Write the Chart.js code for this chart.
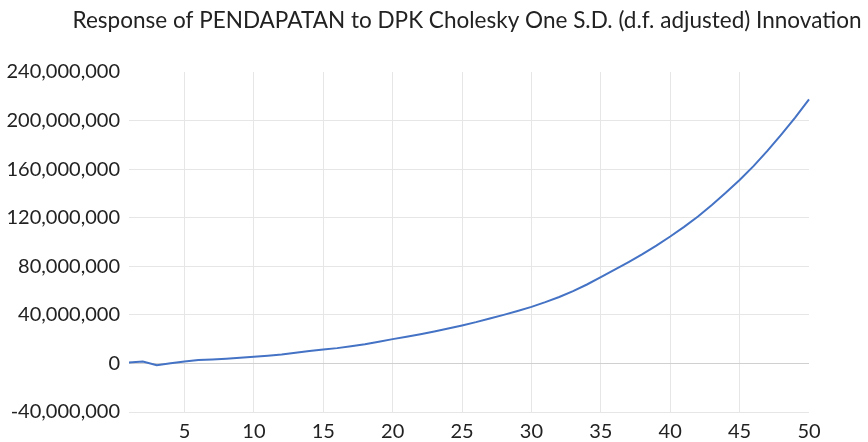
<!DOCTYPE html>
<html>
<head>
<meta charset="utf-8">
<script src="https://cdn.jsdelivr.net/npm/chart.js@4"></script>
<style>
  html, body { margin: 0; padding: 0; background: #fff; }
  #wrap { width: 868px; height: 442px; }
</style>
</head>
<body>
<div id="wrap"><canvas id="irfChart" width="868" height="442"></canvas></div>
<script>
// periode respon 1..50
const periods = [1, 2, 3, 4, 5, 6, 7, 8, 9, 10,
  11, 12, 13, 14, 15, 16, 17, 18, 19, 20,
  21, 22, 23, 24, 25, 26, 27, 28, 29, 30,
  31, 32, 33, 34, 35, 36, 37, 38, 39, 40,
  41, 42, 43, 44, 45, 46, 47, 48, 49, 50];

// respon PENDAPATAN (dalam juta)
const responseMillions = [0.8, 1.5, -1.5, 0.2, 1.6, 2.8, 3.2, 3.8, 4.6, 5.5,
  6.4, 7.4, 8.8, 10.2, 11.5, 12.6, 14.1, 15.8, 17.8, 20.0,
  22.0, 24.1, 26.3, 28.7, 31.3, 34.0, 37.0, 40.0, 43.2, 46.6,
  50.5, 54.7, 59.5, 65.0, 71.0, 77.2, 83.5, 90.0, 97.0, 104.5,
  112.5, 121.0, 130.5, 140.5, 151.0, 162.5, 175.0, 188.5, 202.5, 217.5];

const yTicks = [-40000000, 0, 40000000, 80000000, 120000000, 160000000, 200000000, 240000000];
const xTickLabels = [5, 10, 15, 20, 25, 30, 35, 40, 45, 50];

const titleText = 'Response of PENDAPATAN to DPK Cholesky One S.D. (d.f. adjusted) Innovation';

const fontFamily = 'Lato, "Open Sans", sans-serif';
const ctx = document.getElementById('irfChart').getContext('2d');

// judul digambar sendiri supaya tidak dipersempit ke lebar area plot
const titlePlugin = {
  id: 'wideTitle',
  afterDraw(chart) {
    const c = chart.ctx;
    c.save();
    c.font = '22.6px ' + fontFamily;
    c.fillStyle = '#222';
    c.textAlign = 'center';
    c.textBaseline = 'middle';
    c.fillText(titleText, 467, 21, 789);
    c.restore();
  }
};

const config = {
  type: 'line',
  data: {
    labels: periods,
    datasets: [{
      label: 'PENDAPATAN',
      data: responseMillions.map(v => v * 1000000),
      borderColor: '#4472C4',
      borderWidth: 2,
      pointRadius: 0,
      tension: 0,
      fill: false
    }]
  },
  options: {
    responsive: false,
    animation: false,
    layout: { padding: { left: 0, right: 59, top: 72, bottom: 0 } },
    plugins: {
      legend: { display: false },
      tooltip: { enabled: false },
      title: { display: false }
    },
    scales: {
      x: {
        type: 'category',
        offset: false,
        border: { display: false },
        grid: {
          drawTicks: false,
          color: c => (xTickLabels.includes(periods[c.index]) && periods[c.index] !== 50) ? '#e6e6e6' : 'rgba(0,0,0,0)'
        },
        ticks: {
          autoSkip: false,
          maxRotation: 0,
          padding: 8,
          color: '#222',
          font: { family: fontFamily, size: 20 },
          callback: function (val, i) {
            return xTickLabels.includes(periods[i]) ? String(periods[i]) : '';
          }
        },
        afterFit: s => { s.height = 30; }
      },
      y: {
        min: -40000000,
        max: 240000000,
        border: { display: false },
        afterBuildTicks: s => { s.ticks = yTicks.map(v => ({ value: v })); },
        grid: {
          drawTicks: false,
          color: c => c.tick.value === 0 ? '#d0d0d0' : (c.tick.value === 240000000 ? 'rgba(0,0,0,0)' : '#e6e6e6')
        },
        ticks: {
          padding: 9,
          color: '#222',
          font: { family: fontFamily, size: 20 },
          callback: v => v.toLocaleString('en-US')
        },
        afterFit: s => { s.width = 129; }
      }
    }
  },
  plugins: [titlePlugin]
};

const irfChart = new Chart(ctx, config);
</script>
</body>
</html>
